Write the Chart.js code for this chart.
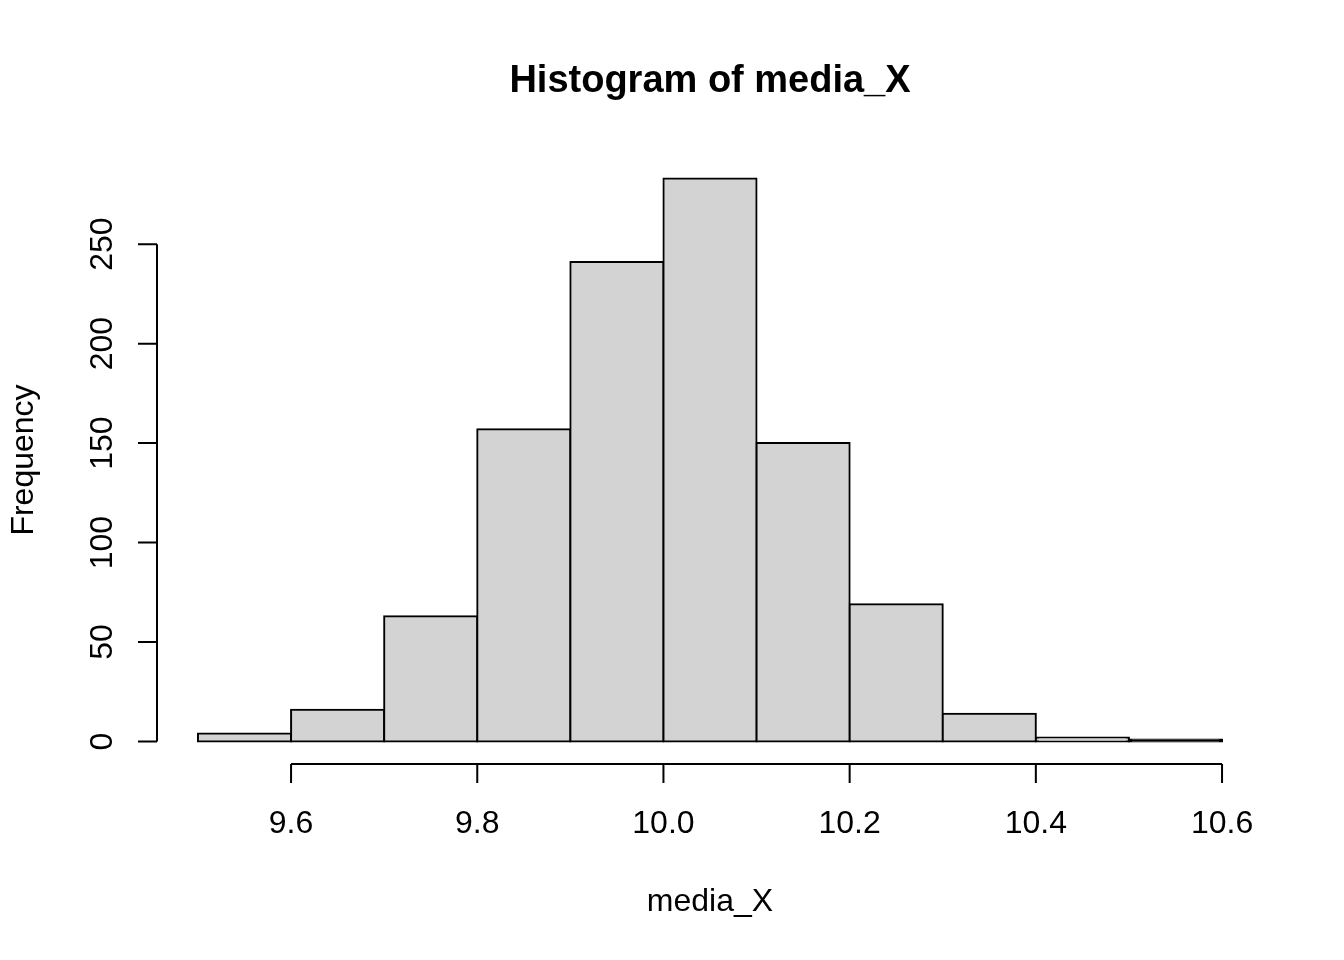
<!DOCTYPE html>
<html>
<head>
<meta charset="utf-8">
<title>Histogram of media_X</title>
<script src="https://cdn.jsdelivr.net/npm/chart.js@4/dist/chart.umd.min.js"></script>
<style>
  html, body { margin: 0; padding: 0; background: #fff; }
  canvas { display: block; }
</style>
</head>
<body>
<canvas id="hist" width="1344" height="960"></canvas>
<script>
// histogram data (bin edges + counts per bin)
var breaks = [9.5, 9.6, 9.7, 9.8, 9.9, 10.0, 10.1, 10.2, 10.3, 10.4, 10.5, 10.6];
var counts = [4, 16, 63, 157, 241, 283, 150, 69, 14, 2, 1];
var xTicks = [9.6, 9.8, 10.0, 10.2, 10.4, 10.6];
var xTickLabels = ['9.6', '9.8', '10.0', '10.2', '10.4', '10.6'];
var yTicks = [0, 50, 100, 150, 200, 250];
var titleText = 'Histogram of media_X';
var xLabel = 'media_X';
var yLabel = 'Frequency';

var FONT = '"Liberation Sans", Arial, sans-serif';

// R pads the axis range by 4% on each side
var xLo = breaks[0], xHi = breaks[breaks.length - 1];
var xPad = (xHi - xLo) * 0.04;
var yHi = Math.max.apply(null, counts);
var yPad = yHi * 0.04;

var points = [];
for (var i = 0; i < counts.length; i++) {
  points.push({ x: (breaks[i] + breaks[i + 1]) / 2, y: counts[i] });
}

// draws R style axes, labels and title using the chart scales
var rAxes = {
  id: 'rAxes',
  afterDraw: function(chart) {
    var ctx = chart.ctx;
    var sx = chart.scales.x, sy = chart.scales.y;
    var area = chart.chartArea;
    var tick = 19;
    ctx.save();
    ctx.strokeStyle = '#000';
    ctx.fillStyle = '#000';
    ctx.lineWidth = 2;

    // x axis
    var ay = Math.round(area.bottom);
    var x0 = sx.getPixelForValue(xTicks[0]);
    var x1 = sx.getPixelForValue(xTicks[xTicks.length - 1]);
    ctx.beginPath();
    ctx.moveTo(x0, ay);
    ctx.lineTo(x1, ay);
    xTicks.forEach(function(v) {
      var px = sx.getPixelForValue(v);
      ctx.moveTo(px, ay);
      ctx.lineTo(px, ay + tick);
    });
    ctx.stroke();
    ctx.font = '32px ' + FONT;
    ctx.textAlign = 'center';
    ctx.textBaseline = 'alphabetic';
    xTicks.forEach(function(v, i) {
      ctx.fillText(xTickLabels[i], sx.getPixelForValue(v), ay + 69);
    });

    // y axis
    var axx = Math.round(area.left);
    var y0 = sy.getPixelForValue(yTicks[0]);
    var y1 = sy.getPixelForValue(yTicks[yTicks.length - 1]);
    ctx.beginPath();
    ctx.moveTo(axx, y0);
    ctx.lineTo(axx, y1);
    yTicks.forEach(function(v) {
      var py = sy.getPixelForValue(v);
      ctx.moveTo(axx, py);
      ctx.lineTo(axx - tick, py);
    });
    ctx.stroke();
    yTicks.forEach(function(v) {
      ctx.save();
      ctx.translate(axx - 45, sy.getPixelForValue(v));
      ctx.rotate(-Math.PI / 2);
      ctx.fillText(String(v), 0, 0);
      ctx.restore();
    });

    var cx = (area.left + area.right) / 2;
    var cy = (area.top + area.bottom) / 2;

    // axis titles
    ctx.fillText(xLabel, cx, 911);
    ctx.save();
    ctx.translate(33, cy);
    ctx.rotate(-Math.PI / 2);
    ctx.fillText(yLabel, 0, 0);
    ctx.restore();

    // main title
    ctx.font = 'bold 38px ' + FONT;
    ctx.fillText(titleText, cx, 92);
    ctx.restore();
  }
};

// very short bars are just their outline in R, so fill them black
function barFill(c) {
  var sy = c.chart.scales.y;
  if (sy && c.raw) {
    var h = Math.abs(sy.getPixelForValue(0) - sy.getPixelForValue(c.raw.y));
    if (h < 3) return '#000000';
  }
  return '#D3D3D3';
}

var ctx = document.getElementById('hist').getContext('2d');
var chart = new Chart(ctx, {
  type: 'bar',
  data: {
    datasets: [{
      label: 'media_X',
      data: points,
      backgroundColor: barFill,
      borderColor: '#000000',
      borderWidth: 2,
      borderSkipped: false,
      inflateAmount: 1,
      barPercentage: 1,
      categoryPercentage: 1
    }]
  },
  options: {
    responsive: false,
    animation: false,
    layout: { padding: { left: 157, top: 156, right: 81, bottom: 196 } },
    plugins: {
      legend: { display: false },
      tooltip: { enabled: false },
      title: { display: false }
    },
    scales: {
      x: {
        type: 'linear',
        display: false,
        offset: false,
        min: xLo - xPad,
        max: xHi + xPad
      },
      y: {
        display: false,
        min: -yPad,
        max: yHi + yPad
      }
    }
  },
  plugins: [rAxes]
});
</script>
</body>
</html>
